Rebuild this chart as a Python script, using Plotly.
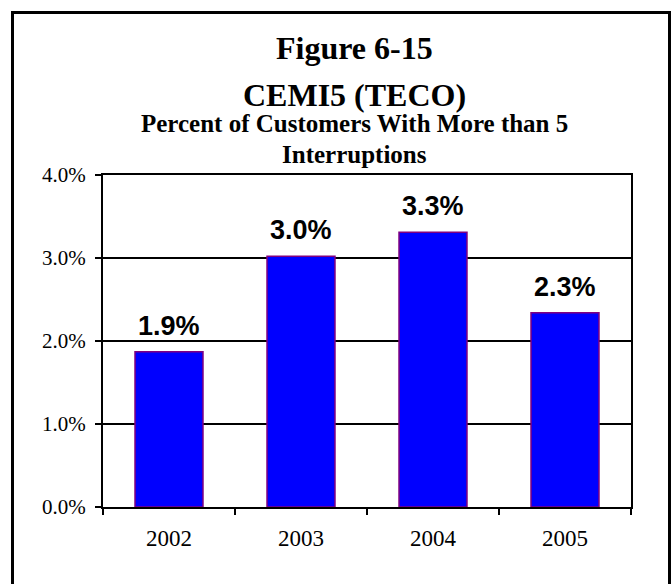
import plotly.graph_objects as go

years = ["2002", "2003", "2004", "2005"]
cemi5 = [0.0187, 0.0302, 0.0331, 0.0234]
labels = ["1.9%", "3.0%", "3.3%", "2.3%"]

W, H = 671, 584
L, R, T, B = 103, 40, 175, 77
PW, PH = W - L - R, H - T - B

def px(x):
    return (x - L) / PW

def py(y):
    return (H - B - y) / PH

serif = "Liberation Serif, Times New Roman, serif"
sans = "Liberation Sans, Arial, sans-serif"

fig = go.Figure()
fig.add_trace(go.Bar(
    x=years, y=cemi5,
    marker=dict(color="#0000FF", line=dict(color="#800080", width=1.5)),
    hoverinfo="skip",
))

# category axis: annotation x given as category serial number
for i, (v, lab) in enumerate(zip(cemi5, labels)):
    fig.add_annotation(x=i, y=v, text="<b>%s</b>" % lab, showarrow=False,
                       xref="x", yref="y", yanchor="bottom", yshift=9,
                       font=dict(family=sans, size=27, color="black"))

titles = [
    ("<b>Figure 6-15</b>", 32, 48),
    ("<b>CEMI5 (TECO)</b>", 32, 95),
    ("<b>Percent of Customers With More than 5</b>", 25, 123),
    ("<b>Interruptions</b>", 25, 154),
]
for txt, size, ycen in titles:
    fig.add_annotation(x=px(354), y=py(ycen), xref="paper", yref="paper",
                       text=txt, showarrow=False, xanchor="center", yanchor="middle",
                       font=dict(family=serif, size=size, color="black"))

# outer frame
fig.add_shape(type="rect", xref="paper", yref="paper",
              x0=px(12.5), x1=px(669.5), y0=py(600), y1=py(12.5),
              line=dict(color="black", width=3), fillcolor="rgba(0,0,0,0)", layer="above")

fig.update_layout(
    width=W, height=H,
    margin=dict(l=L, r=R, t=T, b=B, pad=0),
    paper_bgcolor="white", plot_bgcolor="white",
    bargap=0.485, showlegend=False,
    font=dict(family=serif, color="black"),
)
fig.update_xaxes(
    type="category", range=[-0.5, 3.5],
    showline=True, linecolor="black", linewidth=2, mirror=True,
    ticks="outside", ticklen=6, tickwidth=2, tickcolor="black",
    tickson="boundaries", showgrid=False,
    tickfont=dict(family=serif, size=23, color="black"),
    ticklabelstandoff=9,
)
fig.update_yaxes(
    range=[0, 0.04], dtick=0.01, tickformat=".1%",
    showline=True, linecolor="black", linewidth=2, mirror=True,
    ticks="outside", ticklen=6, tickwidth=2, tickcolor="black",
    showgrid=True, gridcolor="black", gridwidth=1.5, zeroline=False,
    tickfont=dict(family=serif, size=21, color="black"),
    ticklabelstandoff=5,
)

fig.write_html("out.html")
